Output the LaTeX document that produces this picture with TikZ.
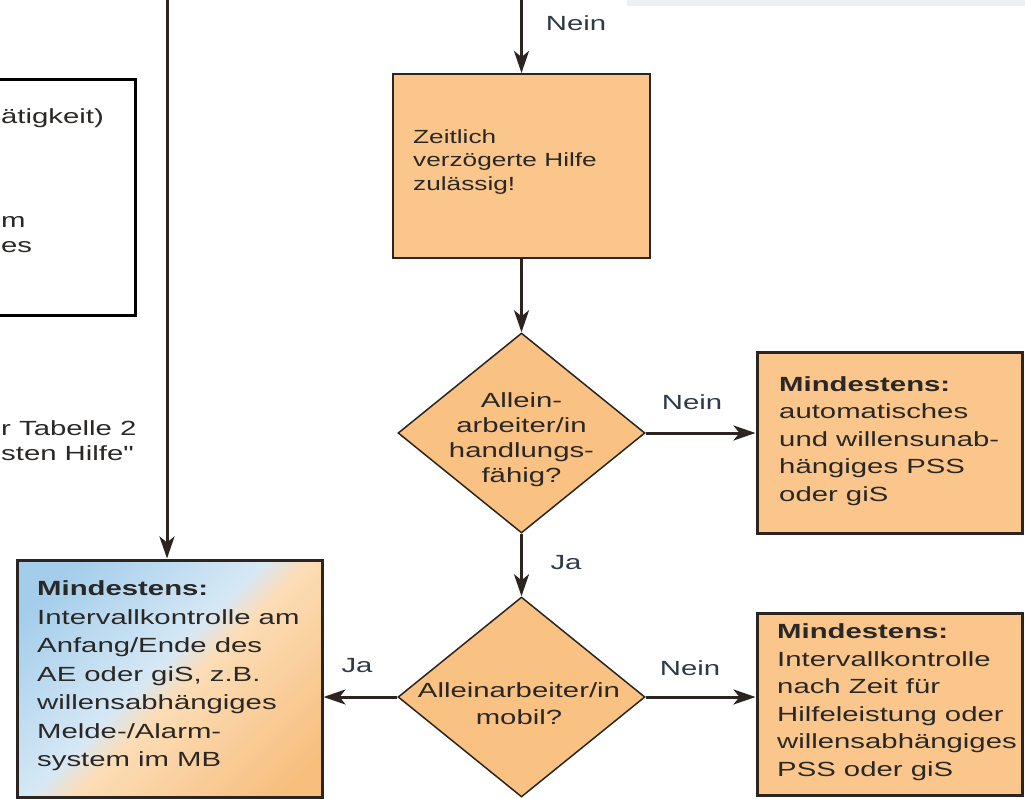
\documentclass[tikz,border=0pt]{standalone}
\usepackage{fontspec}
\setmainfont{Liberation Sans}
\newfontfamily\bodyfont[FakeStretch=1.43]{Liberation Sans}
\newfontfamily\zfont[FakeStretch=1.38]{Liberation Sans}
\usetikzlibrary{shapes.geometric,arrows.meta}
\definecolor{boxor}{HTML}{FAC68B}
\definecolor{dmor}{HTML}{F9C283}
\definecolor{edge}{HTML}{2B2420}
\definecolor{ink}{HTML}{2A2826}
\definecolor{lab}{HTML}{2E3A48}
\definecolor{band}{HTML}{ECF0F5}
\definecolor{blA}{HTML}{A3CDEB}
\definecolor{blB}{HTML}{D6E8F5}
\definecolor{orB}{HTML}{FCDDB6}
\definecolor{orA}{HTML}{F7BE7E}
\pgfdeclarehorizontalshading{bluorange}{100bp}{color(0bp)=(blA); color(22bp)=(blA); color(47bp)=(blB); color(53bp)=(orB); color(80bp)=(orA); color(100bp)=(orA)}
\begin{document}
\begin{tikzpicture}[x=1pt,y=-1pt,
  txt/.style={font=\bodyfont\fontsize{20.5pt}{27.5pt}\selectfont, text=ink, inner sep=0pt},
  ztxt/.style={font=\zfont\fontsize{19pt}{23.5pt}\selectfont, text=ink, inner sep=0pt},
  lbl/.style={font=\bodyfont\fontsize{20.5pt}{24pt}\selectfont, text=lab, inner sep=0pt},
  obox/.style={rectangle, draw=edge, line width=3pt, fill=boxor, inner sep=0pt},
  dbox/.style={diamond, draw=edge, line width=1.5pt, fill=dmor, inner sep=0pt},
  arr/.style={draw=edge, line width=3pt, -{Stealth[length=22pt,width=15pt,inset=6pt]}}]
\useasboundingbox (0,0) rectangle (1025,798);
\clip (0,0) rectangle (1025,798);
\fill[band] (627,0) rectangle (1025,6);

% partial box at the left edge
\node (lbox) [rectangle, draw=black, line width=3pt, minimum width=150pt, minimum height=236pt] at (60,197) {};
\node (l1) [txt, anchor=base west] at (1,123) {ätigkeit)};
\node (l2) [txt, anchor=base west] at (1,227) {m};
\node (l3) [txt, anchor=base west] at (1,252) {es};
\node (l4) [txt, anchor=base west] at (1,435) {r Tabelle 2};
\node (l5) [txt, anchor=base west] at (1,460) {sten Hilfe"};

% boxes
\node (zb) [obox, line width=2pt, minimum width=257pt, minimum height=184pt] at (521.5,166) {};
\node (zt) [ztxt, align=left, anchor=west] at (413,162) {Zeitlich\\verzögerte Hilfe\\zulässig!};

\node (d1) [dbox, minimum width=247pt, minimum height=200pt] at (521.5,433) {};
\node (d1t) [txt, align=center, font=\bodyfont\fontsize{20.5pt}{25pt}\selectfont] at (521.5,440) {Allein-\\arbeiter/in\\handlungs-\\fähig?};

\node (d2) [dbox, minimum width=247pt, minimum height=200pt] at (521.5,697) {};
\node (d2t) [txt, align=center, font=\bodyfont\fontsize{20.5pt}{27pt}\selectfont] at (519,704) {Alleinarbeiter/in\\mobil?};

\node (b1) [obox, minimum width=265pt, minimum height=181pt] at (889.5,442.5) {};
\node (b1t) [txt, align=left, anchor=west] at (779,441) {\textbf{Mindestens:}\\automatisches\\und willensunab-\\hängiges PSS\\oder giS};

\node (b2) [obox, minimum width=265pt, minimum height=182pt] at (889.5,704) {};
\node (b2t) [txt, align=left, anchor=west] at (777,702) {\textbf{Mindestens:}\\Intervallkontrolle\\nach Zeit für\\Hilfeleistung oder\\willensabhängiges\\PSS oder giS};

\node (bl) [rectangle, draw=edge, line width=3pt, shading=bluorange, shading angle=-45, minimum width=305pt, minimum height=237pt, inner sep=0pt] at (169.5,678.5) {};
\node (blt) [txt, align=left, anchor=west, font=\bodyfont\fontsize{20.5pt}{28.5pt}\selectfont] at (37,676) {\textbf{Mindestens:}\\Intervallkontrolle am\\Anfang/Ende des\\AE oder giS, z.B.\\willensabhängiges\\Melde-/Alarm-\\system im MB};

% connectors
\coordinate (ztop) at (521.5,0);
\coordinate (ltop) at (167,0);
\draw[arr] (ztop) -- (zb.north);
\draw[arr] (zb.south) -- (d1.north);
\draw[arr] (d1.east) -- (d1.east -| b1.west);
\draw[arr] (d1.south) -- (d2.north);
\draw[arr] (d2.east) -- (d2.east -| b2.west);
\draw[arr] (d2.west) -- (d2.west -| bl.east);
\draw[arr] (ltop) -- (ltop |- bl.north);

% labels
\node (n0) [lbl] at (576,23) {Nein};
\node (n1) [lbl] at (692,402) {Nein};
\node (j1) [lbl] at (566,563) {Ja};
\node (n2) [lbl] at (690,668) {Nein};
\node (j2) [lbl] at (357,666) {Ja};
\end{tikzpicture}
\end{document}
